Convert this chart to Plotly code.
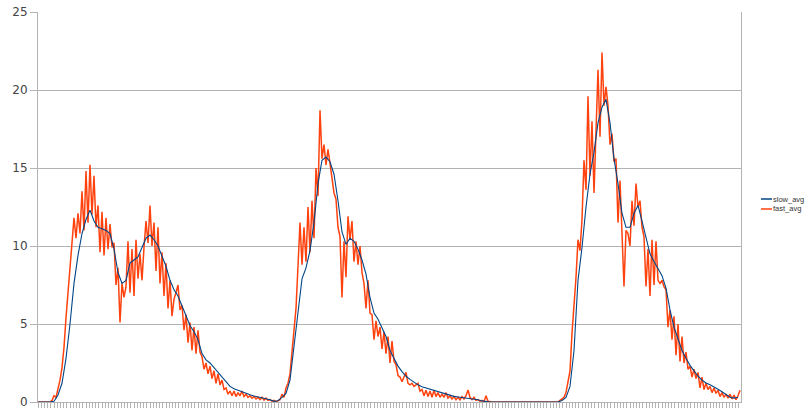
import plotly.graph_objects as go

# fast_avg samples (one per x step)
fast_avg = [
    0, 0, 0, 0, 0, 0, 0, 0.1, 0.4, 0.3,
    0.8, 1.4, 2.2, 3.5, 5.4, 7.0, 8.9, 10.1, 11.8, 10.5,
    12.1, 10.8, 13.5, 11.0, 14.8, 11.5, 15.2, 12.0, 14.5, 11.2,
    12.6, 9.6, 12.2, 9.4, 11.8, 9.8, 11.4, 9.9, 10.2, 7.5,
    8.6, 5.1, 7.6, 6.7, 7.4, 10.3, 7.0, 9.8, 6.8, 10.4,
    7.9, 9.5, 7.8, 9.9, 11.6, 10.2, 12.6, 10.0, 11.5, 8.4,
    11.2, 7.6, 9.6, 6.8, 8.9, 6.0, 7.8, 5.5, 6.6, 7.0,
    7.5, 5.9, 6.2, 4.6, 5.6, 3.8, 5.1, 3.3, 4.8, 3.1,
    4.6, 3.2, 2.9, 2.1, 2.5, 1.8, 2.3, 1.5, 2.0, 1.2,
    1.8, 1.1, 1.4, 0.8, 0.9, 0.5, 0.7, 0.4, 0.7, 0.35,
    0.6, 0.4, 0.7, 0.35, 0.5, 0.3, 0.4, 0.25, 0.35, 0.2,
    0.3, 0.15, 0.3, 0.12, 0.25, 0.1, 0.15, 0.05, 0.1, 0.02,
    0.1, 0.15, 0.5, 0.3, 0.9, 1.2, 1.8, 3.2, 4.6, 6.0,
    8.7, 11.5, 8.8, 11.2, 9.0, 12.5, 9.6, 12.9, 10.5, 15.0,
    13.2, 18.7, 15.6, 16.5, 15.2, 16.2, 15.3, 14.2, 13.4, 13.0,
    11.2, 10.6, 6.7, 10.3, 8.0, 11.9, 10.4, 11.6, 9.0, 10.3,
    8.8, 10.0, 8.3, 7.6, 6.0, 7.8, 5.7, 5.6, 4.0, 5.2,
    4.2, 4.8, 3.4, 4.5, 3.1, 4.2, 2.5, 3.9, 2.6, 2.4,
    1.7, 1.6, 1.3, 1.6, 1.9, 1.2, 1.1, 1.2, 1.0, 1.1,
    1.2, 0.7, 0.8, 0.4, 0.75, 0.35, 0.7, 0.3, 0.75, 0.35,
    0.6, 0.3, 0.5, 0.3, 0.6, 0.25, 0.4, 0.2, 0.35, 0.15,
    0.3, 0.13, 0.35, 0.2, 0.4, 0.77, 0.3, 0.15, 0.3, 0.1,
    0.15, 0.05, 0.1, 0.02, 0.4, 0.05, 0, 0, 0, 0,
    0, 0, 0, 0, 0, 0, 0, 0, 0, 0,
    0, 0, 0, 0, 0, 0, 0, 0, 0, 0,
    0, 0, 0, 0, 0, 0, 0, 0, 0, 0,
    0, 0.1, 0.2, 0.3, 0.6, 1.2, 2.0, 4.4, 6.1, 8.0,
    10.4, 9.7, 11.7, 15.5, 13.6, 19.6, 14.5, 18.0, 13.4, 17.2,
    21.3, 17.0, 22.4, 19.0, 20.2, 19.0, 16.5, 17.2, 15.4, 15.6,
    11.5, 14.2, 10.8, 7.4, 11.0, 10.8, 10.0, 12.9, 11.3, 14.0,
    12.5, 12.9, 11.2, 10.6, 7.4, 9.8, 6.8, 10.4, 7.5, 10.3,
    7.8, 7.6, 7.8, 7.4, 7.2, 4.8, 5.9, 4.0, 5.5, 3.0,
    5.0, 2.6, 4.2, 2.5, 3.2, 2.1, 2.3, 1.6, 2.1, 1.5,
    1.9, 0.9, 1.6, 0.8, 1.2, 0.8, 1.0, 0.6, 0.9, 0.55,
    0.75, 0.35, 0.6, 0.3, 0.5, 0.25, 0.5, 0.2, 0.45, 0.15,
    0.4, 0.75,
]

# slow_avg samples (one per two x steps)
slow_avg = [
    0, 0, 0, 0, 0.05, 0.45, 1.2, 2.8, 5.0, 7.6,
    9.4, 10.8, 11.7, 12.3, 11.6, 11.2, 11.1, 11.0, 10.8, 9.8,
    8.3, 7.6, 7.8, 8.9, 9.1, 9.3, 9.9, 10.5, 10.7, 10.4,
    10.0, 9.4, 8.7, 7.8, 7.2, 6.8, 6.2, 5.5, 4.9, 4.5,
    4.0, 3.1, 2.7, 2.5, 2.2, 1.9, 1.6, 1.25, 1.0, 0.85,
    0.75, 0.63, 0.52, 0.46, 0.39, 0.33, 0.29, 0.25, 0.15, 0.04,
    0.08, 0.3, 0.55, 1.4, 3.6, 5.4, 7.9, 8.6, 9.7, 11.5,
    14.0, 15.5, 15.7, 15.4, 14.6, 12.9, 10.9, 10.1, 10.5, 10.3,
    9.8, 9.1, 8.2, 6.7, 5.7, 5.3, 4.8, 4.2, 3.3, 2.8,
    2.3, 1.95, 1.65, 1.45, 1.25, 1.1, 0.98, 0.9, 0.8, 0.72,
    0.64, 0.56, 0.48, 0.4, 0.36, 0.32, 0.29, 0.27, 0.23, 0.2,
    0.14, 0.07, 0.02, 0, 0, 0, 0, 0, 0, 0,
    0, 0, 0, 0, 0, 0, 0, 0, 0, 0,
    0, 0.1, 0.3, 1.0, 3.3, 7.8, 9.9, 12.5, 14.6, 16.0,
    17.9, 18.9, 19.4, 17.9, 15.6, 14.0, 12.1, 11.2, 11.2, 12.1,
    12.6, 11.6, 10.5, 9.5, 9.0, 8.5, 8.1, 7.3, 5.9, 4.8,
    4.0, 3.3, 2.8, 2.35, 2.0, 1.65, 1.4, 1.22, 1.1, 0.98,
    0.82, 0.66, 0.45, 0.3, 0.25, 0.3,
]

fast_x = list(range(len(fast_avg)))
slow_x = list(range(0, 2 * len(slow_avg), 2))

y_ticks = [0, 5, 10, 15, 20, 25]
series_names = ["slow_avg", "fast_avg"]
series_colors = ["#004586", "#ff420e"]

GRID = "#b3b3b3"

fig = go.Figure()
fig.add_trace(go.Scatter(x=fast_x, y=fast_avg, mode="lines", name=series_names[1],
                         line=dict(color=series_colors[1], width=1.5), showlegend=False))
fig.add_trace(go.Scatter(x=slow_x, y=slow_avg, mode="lines", name=series_names[0],
                         line=dict(color=series_colors[0], width=1.1), showlegend=False))

# legend drawn at the right side of the plot area
leg_y = [0.5205, 0.4949]
for name, col, ly in zip(series_names, series_colors, leg_y):
    fig.add_shape(type="line", xref="paper", yref="paper", x0=1.0284, x1=1.0441,
                  y0=ly, y1=ly, line=dict(color=col, width=1.5))
    fig.add_annotation(xref="paper", yref="paper", x=1.0427, y=ly, text=name,
                       showarrow=False, xanchor="left", yanchor="middle",
                       font=dict(family="Liberation Sans", size=7.5, color="#333333"))

fig.update_layout(
    width=812, height=409,
    margin=dict(l=38, r=71, t=12, b=7, autoexpand=False),
    paper_bgcolor="white", plot_bgcolor="white",
    showlegend=False,
    font=dict(family="DejaVu Sans", size=12, color="#444444"),
)
fig.update_xaxes(range=[0, len(fast_avg) - 0.5], showgrid=False, zeroline=False,
                 showline=True, linecolor=GRID, linewidth=1, automargin=False,
                 ticks="outside", ticklen=5, tickcolor=GRID, tickwidth=1,
                 tick0=0, dtick=1.6, showticklabels=False, fixedrange=True)
fig.update_yaxes(range=[0, 25], tickvals=y_ticks, showgrid=True, gridcolor=GRID,
                 gridwidth=1, zeroline=False, showline=True, linecolor=GRID,
                 linewidth=1, mirror=True, ticks="outside", ticklen=7,
                 ticklabeloverflow="allow", automargin=False,
                 tickcolor=GRID, tickfont=dict(family="DejaVu Sans", size=12, color="#444444"))

# remove the default page margin so the 812x409 figure fills the window exactly
fig.write_html("out.html", config={"displayModeBar": False},
               post_script="document.body.style.margin='0px';")
